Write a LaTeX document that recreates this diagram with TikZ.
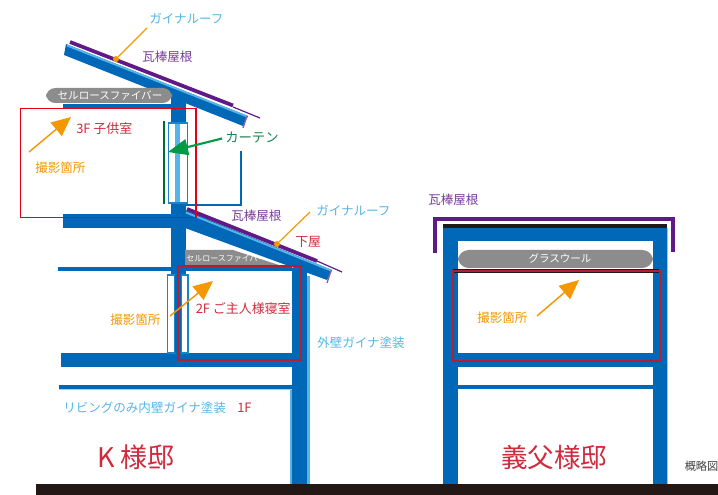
\documentclass[tikz,border=0pt]{standalone}
\usepackage{fontspec}
\setmainfont{Noto Sans CJK JP}
\usetikzlibrary{arrows.meta}
\definecolor{wallblue}{HTML}{0068B7}
\definecolor{gainablue}{HTML}{54B5E6}
\definecolor{roofpurple}{HTML}{601986}
\definecolor{markorange}{HTML}{F39800}
\definecolor{labelred}{HTML}{D02A3E}
\definecolor{framered}{HTML}{E60012}
\definecolor{darkred}{HTML}{B81C30}
\definecolor{curtaingreen}{HTML}{009944}
\definecolor{curtaintext}{HTML}{1B7F50}
\definecolor{fibergrey}{HTML}{8C8C8C}
\definecolor{ground}{HTML}{231815}
\tikzset{
  txt/.style={inner sep=0pt,font=\fontsize{#1}{#1}\selectfont},
  txt/.default=9.4,
  gainatxt/.style={txt,text=gainablue,anchor=west},
  rooftxt/.style={txt,text=roofpurple!85!white,anchor=west},
  redtxt/.style={txt=9.7,text=labelred,anchor=west},
  shottxt/.style={txt,text=markorange,anchor=west},
  pilltxt/.style={txt=#1,text=white},
  wall/.style={fill=wallblue},
  pane/.style={fill=white,draw=wallblue!65!gainablue,line width=.9pt},
  shotarrow/.style={draw=markorange,line width=1.1pt,-{Triangle[length=14.5,width=13]}},
  leader/.style={draw=markorange,line width=.9pt},
  dot/.style={circle,fill=markorange,inner sep=0pt,minimum size=4.5pt},
  roomframe/.style={draw=#1,line width=1pt},
}
\begin{document}
\begin{tikzpicture}[x=.75pt,y=-.75pt]
\useasboundingbox (0,0) rectangle (718,495);
% ---- K house: structure
\fill[wall] (171,95) rectangle (186,124);
\fill[wall] (171,203) rectangle (186,353);
\fill[wall] (63,104) rectangle (171,108);
\fill[wall] (63,214) rectangle (186,228);
% upper roof
\fill[wall] (66,44) -- (248,116) -- (243,126) -- (64,55) -- cycle;
\draw[gainablue,line width=1.4pt] (67,45.5) -- (247,116.5);
\draw[roofpurple,line width=2.8pt] (70,42) -- (233,105.5);
\draw[roofpurple,line width=.9pt] (233,107) -- (260,118);
\draw[roofpurple!70!white,line width=1pt] (247,116) -- (243,128);
% cellulose pill (3F)
\fill[fibergrey,rounded corners=7pt] (46,88) rectangle (172,103);
\node[pilltxt=7.9] (fiberA) at (110,96) {セルロースファイバー};
% window 3F
\draw[pane] (168.5,123) rectangle (187.5,203);
\fill[gainablue] (175,124) rectangle (180,202);
\draw[curtaingreen!70!black,line width=2pt] (164,121) -- (164,204);
% balcony
\draw[wallblue,line width=1.8pt] (241,151) -- (241,205) -- (186,205);
% grey cellulose (2F)
\fill[fibergrey] (185,250) -- (233,250) -- (288,268) -- (185,268) -- cycle;
\node[pilltxt=6] (fiberB) at (226,258.5) {セルロースファイバー};
% lower roof
\fill[wall] (185,210) -- (332,270) -- (327,280) -- (185,228) -- cycle;
\draw[gainablue,line width=1.4pt] (186,212.5) -- (331,270.5);
\draw[roofpurple,line width=2.8pt] (187,209) -- (317,261);
\draw[roofpurple,line width=.9pt] (317,261) -- (342,272);
\draw[roofpurple!70!white,line width=1pt] (331,271) -- (327,283);
% floors and wall
\fill[wall] (58,267) rectangle (171,271);
\fill[wall] (185,267) rectangle (292,271);
\fill[gainablue] (290,390) rectangle (309.5,484);
\fill[gainablue] (306,276) rectangle (309.5,484);
\fill[wall] (292,268) rectangle (307,484);
\fill[wall] (61,353) rectangle (292,367);
\fill[gainablue!60!white] (59,389) rectangle (292,390.5);
\fill[wall] (59,385) rectangle (292,389);
% window 2F
\draw[pane] (167.5,275) rectangle (175,353);
\draw[pane] (181.5,275) rectangle (188,353);
\fill[wall] (175,275) rectangle (181,353);
% ---- Father-in-law house
\fill[gainablue!70!white] (442.5,228) rectangle (667.5,484);
\fill[wall] (443,228) rectangle (667,484);
\fill[white] (458,241) rectangle (653,353);
\fill[white] (458,367) rectangle (653,385);
\fill[white] (458,389) rectangle (653,484);
\fill[ground] (443,224) rectangle (667,228);
\draw[roofpurple,line width=3pt,line join=miter] (435,253) -- (435,219) -- (673,219) -- (673,252);
\fill[fibergrey,rounded corners=8pt] (458,250) rectangle (653,268);
\node[pilltxt=7.9] (glass) at (560,258) {グラスウール};
\fill[ground] (453,269) rectangle (659,273);
% ---- ground
\fill[ground] (36,484) rectangle (718,495);
% ---- room frames
\draw[roomframe=framered] (20.5,108.5) rectangle (196,217.5);
\draw[roomframe=darkred] (178,266) rectangle (301,360);
\draw[roomframe=darkred] (453,271) rectangle (660.5,361);
% ---- labels
\node[gainatxt] (gainaA) at (149,19) {ガイナルーフ};
\node[rooftxt] (roofA) at (142,57) {瓦棒屋根};
\node[gainatxt] (gainaB) at (316,211) {ガイナルーフ};
\node[rooftxt] (roofB) at (231,216) {瓦棒屋根};
\node[redtxt] (geya) at (295,242) {下屋};
\node[redtxt] (roomA) at (76,128.5) {3F 子供室};
\node[shottxt] (shotA) at (35,168) {撮影箇所};
\node[txt=10,text=curtaintext,anchor=west] (curtain) at (225,137.5) {カーテン};
\node[redtxt] (roomB) at (195.5,308.5) {2F ご主人様寝室};
\node[shottxt] (shotB) at (110,319.5) {撮影箇所};
\node[gainatxt] (outer) at (317,343) {外壁ガイナ塗装};
\node[gainatxt] (living) at (63,408) {リビングのみ内壁ガイナ塗装};
\node[redtxt] (oneF) at (237,408) {1F};
\node[txt=20.3,text=labelred,anchor=west] (houseK) at (97,457) {K 様邸};
\node[rooftxt] (roofC) at (428,200) {瓦棒屋根};
\node[shottxt] (shotC) at (477,318) {撮影箇所};
\node[txt=19.9,text=labelred,anchor=west] (houseF) at (501,457) {義父様邸};
\node[txt=8.4,text=black!75,anchor=west] (sketch) at (684.5,466) {概略図};
% ---- arrows and leaders
\coordinate (a1s) at (29,152); \coordinate (a1e) at (71,117);
\coordinate (a2s) at (170,316); \coordinate (a2e) at (213,281);
\coordinate (a3s) at (537,316); \coordinate (a3e) at (579,280);
\draw[shotarrow] (a1s) -- (a1e);
\draw[shotarrow] (a2s) -- (a2e);
\draw[shotarrow] (a3s) -- (a3e);
\coordinate (ctip) at (168,152);
\draw[draw=curtaingreen,line width=1.6pt,-{Triangle[length=15,width=12]}] (curtain.west) ++(-3,1) -- (ctip);
\node[dot] (dotA) at (116,59) {};
\node[dot] (dotB) at (277,244) {};
\coordinate (lA) at (147,28);
\coordinate (lB) at (310,212);
\draw[leader] (lA) -- (dotA);
\draw[leader] (lB) -- (dotB);
\end{tikzpicture}
\end{document}
